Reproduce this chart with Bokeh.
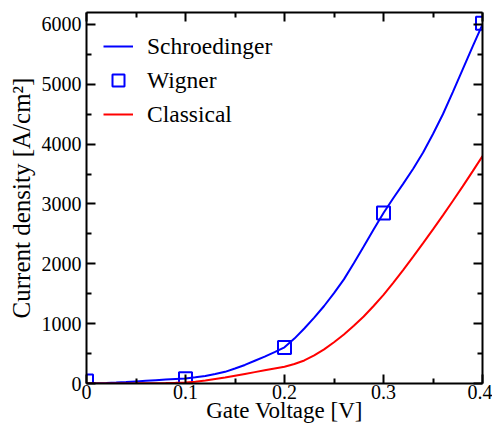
from bokeh.plotting import figure
from bokeh.embed import file_html
from bokeh.resources import INLINE
from bokeh.models import (Range1d, LinearAxis, FixedTicker, CustomJSTickFormatter,
                          Legend, LegendItem)

# ---- data ----
voltage = [0.00, 0.01, 0.02, 0.03, 0.04, 0.05, 0.06, 0.07, 0.08, 0.09, 0.10,
           0.11, 0.12, 0.13, 0.14, 0.15, 0.16, 0.17, 0.18, 0.19, 0.20,
           0.21, 0.22, 0.23, 0.24, 0.25, 0.26, 0.27, 0.28, 0.29, 0.30,
           0.31, 0.32, 0.33, 0.34, 0.35, 0.36, 0.37, 0.38, 0.39, 0.40]
schroedinger = [0, 5, 10, 17, 25, 35, 45, 55, 65, 75, 85,
                103, 125, 158, 195, 250, 310, 380, 450, 525, 605,
                750, 920, 1100, 1295, 1510, 1740, 2010, 2290, 2575, 2850,
                3100, 3340, 3590, 3860, 4170, 4500, 4870, 5250, 5630, 6000]
classical = [0, 0, 0, 1, 2, 3, 5, 6, 8, 11, 15,
             30, 50, 75, 100, 130, 160, 190, 220, 250, 280,
             325, 385, 470, 570, 690, 820, 965, 1120, 1295, 1480,
             1685, 1900, 2120, 2345, 2575, 2810, 3050, 3295, 3545, 3800]
wigner_v = [0.0, 0.1, 0.2, 0.3, 0.4]
wigner_j = [40, 80, 600, 2850, 6020]

x_ticks = [0.0, 0.1, 0.2, 0.3, 0.4]
x_minor = [0.05, 0.15, 0.25, 0.35]
y_ticks = [0, 1000, 2000, 3000, 4000, 5000, 6000]
y_minor = [500, 1500, 2500, 3500, 4500, 5500]

FONT = "Times New Roman"

p = figure(frame_width=396, frame_height=371, output_backend="svg", toolbar_location=None,
           x_range=Range1d(0, 0.4), y_range=Range1d(0, 6200),
           x_axis_location=None, y_axis_location=None,
           min_border_left=86, min_border_right=10, min_border_top=12, min_border_bottom=30)
p.outline_line_color = None
p.grid.visible = False
p.background_fill_color = "white"
p.border_fill_color = "white"

xfmt = CustomJSTickFormatter(code="return tick == 0 ? '0' : tick.toFixed(1);")
blank = CustomJSTickFormatter(code="return '';")

def style(ax, labels=True):
    ax.axis_line_width = 2
    ax.axis_line_color = "black"
    ax.major_tick_in = 9
    ax.major_tick_out = 0
    ax.minor_tick_in = 5
    ax.minor_tick_out = 0
    ax.major_tick_line_width = 2
    ax.minor_tick_line_width = 2
    ax.major_tick_line_color = "black"
    ax.minor_tick_line_color = "black"
    ax.major_label_text_font = FONT
    ax.major_label_text_font_size = "20px"
    ax.major_label_text_color = "black"
    ax.axis_label_text_font = FONT
    ax.axis_label_text_font_size = "23px"
    ax.axis_label_text_font_style = "normal"
    ax.axis_label_text_color = "black"
    if not labels:
        ax.formatter = blank
        ax.major_label_standoff = 0

xb = LinearAxis(ticker=FixedTicker(ticks=x_ticks, minor_ticks=x_minor), formatter=xfmt,
                axis_label="Gate Voltage [V]")
style(xb)
xb.major_label_standoff = 1
xb.axis_label_standoff = -4
xt = LinearAxis(ticker=FixedTicker(ticks=x_ticks, minor_ticks=x_minor))
style(xt, labels=False)
yl = LinearAxis(ticker=FixedTicker(ticks=y_ticks, minor_ticks=y_minor),
                axis_label="Current density [A/cm²]")
style(yl)
yl.axis_label_text_font_size = "25px"
yl.major_label_standoff = 5
yl.axis_label_standoff = 4
yr = LinearAxis(ticker=FixedTicker(ticks=y_ticks, minor_ticks=y_minor))
style(yr, labels=False)

p.add_layout(xb, "below")
p.add_layout(xt, "above")
p.add_layout(yl, "left")
p.add_layout(yr, "right")

r_s = p.line(voltage, schroedinger, line_color="#0000ff", line_width=2)
r_w = p.scatter(wigner_v, wigner_j, marker="square", size=13, line_color="#0000ff",
                line_width=2, fill_color=None)
r_c = p.line(voltage, classical, line_color="#ff0000", line_width=2)

legend = Legend(items=[LegendItem(label="Schroedinger", renderers=[r_s]),
                       LegendItem(label="Wigner", renderers=[r_w]),
                       LegendItem(label="Classical", renderers=[r_c])],
                location="top_left")
legend.border_line_color = None
legend.background_fill_alpha = 0
legend.margin = 17
legend.padding = 0
legend.spacing = 0
legend.glyph_width = 30
legend.glyph_height = 34
legend.label_height = 34
legend.label_standoff = 14
legend.label_text_font = FONT
legend.label_text_font_size = "23.5px"
legend.label_text_color = "black"
p.add_layout(legend, "center")

open("out.html", "w").write(file_html(p, INLINE))
